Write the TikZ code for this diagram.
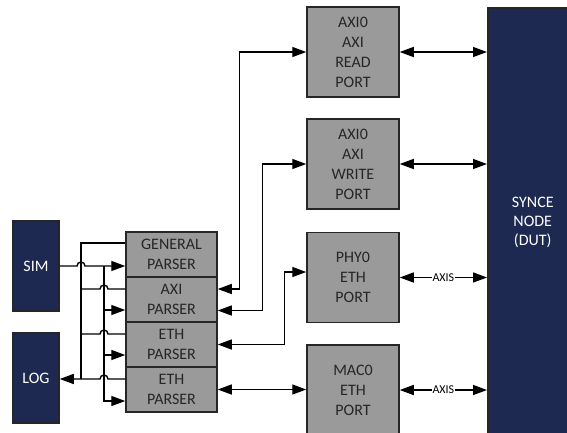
\documentclass[tikz,border=0pt]{standalone}
\usepackage{fontspec}
\setmainfont{Carlito}
\usepackage{tikz}
\usetikzlibrary{positioning,arrows.meta}

\definecolor{navy}{HTML}{1D2951}
\definecolor{boxgray}{HTML}{9A9A9A}

\begin{document}
\begin{tikzpicture}[x=1pt, y=1pt,
        blk/.style={draw=black!85, line width=1.5pt, fill=boxgray, text=black!85, align=center, inner sep=0pt, font=\fontsize{16}{20}\selectfont},
        port/.style={blk, minimum width=92pt, minimum height=90pt},
        parser/.style={blk, minimum width=91pt, minimum height=45pt},
        host/.style={draw=black!85, line width=1.5pt, fill=navy, text=white, align=center, inner sep=0pt, minimum width=46pt, minimum height=90pt, font=\fontsize{16}{19}\selectfont},
        wire/.style={line width=1.4pt},
        link/.style={wire, -{Triangle[length=14pt,width=10pt]}},
        dlink/.style={wire, {Triangle[length=14pt,width=10pt]}-{Triangle[length=14pt,width=10pt]}},
        lab/.style={font=\fontsize{12}{12}\selectfont, fill=white, inner sep=1pt}
    ]
        \useasboundingbox (0,0) rectangle (567,-432);
        \clip (0,0) rectangle (567,-432);

        % Host side
        \node[host] (sim) at (36,-266) {SIM};
        \node[host] (log) at (36,-378) {LOG};

        % Parser stack
        \node[parser] (gen)  at (171.5,-254.5) {GENERAL\\PARSER};
        \node[parser] (axip) at (171.5,-299.5) {AXI\\PARSER};
        \node[parser] (ethp) at (171.5,-344.5) {ETH\\PARSER};
        \node[parser] (ethq) at (171.5,-389.5) {ETH\\PARSER};

        % Ports
        \node[port] (rd)  at (353,-52)  {AXI0\\AXI\\READ\\PORT};
        \node[port] (wr)  at (353,-164) {AXI0\\AXI\\WRITE\\PORT};
        \node[port] (phy) at (353,-277.5) {PHY0\\ETH\\PORT};
        \node[port] (mac) at (353,-390) {MAC0\\ETH\\PORT};

        % DUT
        \node[host, anchor=north west, minimum width=90pt, minimum height=430pt] (dut) at (487,-7) {SYNCE\\NODE\\(DUT)};

        % --- Ports <-> DUT ---
        \draw[dlink] (rd.east) -- (dut.west |- rd.east);
        \draw[dlink] (wr.east) -- (dut.west |- wr.east);
        \draw[dlink] (phy.east) -- node[lab]{AXIS} (dut.west |- phy.east);
        \draw[dlink] (mac.east) -- node[lab]{AXIS} (dut.west |- mac.east);

        % --- Parsers <-> ports ---
        \draw[dlink] (rd.west) -| ([xshift=22pt,yshift=10.5pt]axip.east) -- ([yshift=10.5pt]axip.east);
        \draw[dlink] (wr.west) -| ([xshift=45pt,yshift=-11pt]axip.east) -- ([yshift=-11pt]axip.east);
        \draw[dlink] ([yshift=5.5pt]phy.west) -| ([xshift=67pt]ethp.east) -- (ethp.east);
        \draw[dlink] (ethq.east) -- (mac.west |- ethq.east);

        % --- SIM fan-out (x = 104) ---
        \coordinate (fan) at (104,-266);
        \draw[link] (sim.east) -- (77,-266) arc[start angle=180, end angle=0, radius=4] -- (gen.west |- sim.east);
        \draw[link] (fan) |- ([yshift=-11.5pt]ethq.west);
        \draw[link] (fan |- 0,-310) -- ([yshift=-10.5pt]axip.west);
        \draw[link] (fan |- 0,-355) -- ([yshift=-10.5pt]ethp.west);

        % --- LOG collect (x = 81) ---
        \coordinate (bus) at (81,-379);
        \draw[wire] ([yshift=11.5pt]gen.west) -| (bus);
        \draw[wire] ([yshift=10.5pt]axip.west) -- (108,-289) arc[start angle=0, end angle=180, radius=4] -- (bus |- 0,-289);
        \draw[wire] ([yshift=10.5pt]ethp.west) -- (108,-334) arc[start angle=0, end angle=180, radius=4] -- (bus |- 0,-334);
        \draw[link] ([yshift=10.5pt]ethq.west) -- (108,-379) arc[start angle=0, end angle=180, radius=4] -- (log.east |- bus);
    \end{tikzpicture}
\end{document}
